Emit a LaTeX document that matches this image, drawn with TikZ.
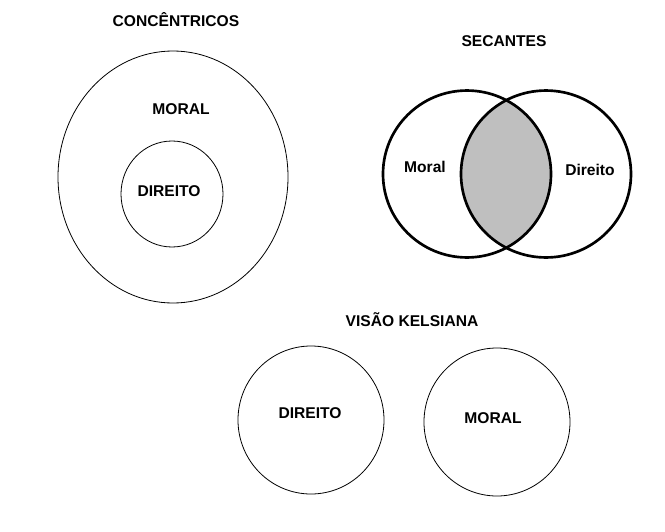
\documentclass[tikz,border=0pt]{standalone}
\usepackage{fontspec}
\setmainfont{Liberation Sans}
\usetikzlibrary{shapes.geometric}

\begin{document}
\begin{tikzpicture}[
  x=0.75pt, y=-0.75pt,
  ring/.style={ellipse, draw, line width=0.6pt, inner sep=0pt},
  thickring/.style={ring, line width=2pt},
  lbl/.style={font=\fontsize{11.7}{14}\selectfont\bfseries, inner sep=0pt},
]
\useasboundingbox (0,0) rectangle (665,532);

%% Concentricos
\node[lbl] (titleConc) at (176,20) {CONCÊNTRICOS};
\node[ring, minimum width=172.5pt, minimum height=189pt] (moralOuter) at (173,177) {};
\node[ring, minimum width=76.5pt, minimum height=79.5pt] (direitoInner) at (172,194) {};
\node[lbl] (moralA) at (181,109) {MORAL};
\node[lbl] (direitoA) at (169,191) {DIREITO};

%% Secantes
\node[lbl] (titleSec) at (504,41) {SECANTES};
\coordinate (secL) at (467,174);
\coordinate (secR) at (546,174);
\begin{scope}
  \clip (secL) ellipse [x radius=63pt, y radius=62.6pt];
  \fill[gray!50] (secR) ellipse [x radius=63.75pt, y radius=62.6pt];
\end{scope}
\node[thickring, minimum width=126pt, minimum height=125.2pt] (moralSec) at (secL) {};
\node[thickring, minimum width=127.5pt, minimum height=125.2pt] (direitoSec) at (secR) {};
\node[lbl] (moralB) at (425,167) {Moral};
\node[lbl] (direitoB) at (590,170) {Direito};

%% Visao kelsiana
\node[lbl] (titleKel) at (412,320) {VISÃO KELSIANA};
\node[ring, minimum width=109.5pt, minimum height=111pt] (direitoKel) at (311,420) {};
\node[ring, minimum width=109.5pt, minimum height=111pt] (moralKel) at (497,422) {};
\node[lbl] (direitoC) at (310,413) {DIREITO};
\node[lbl] (moralC) at (493,418) {MORAL};

\end{tikzpicture}
\end{document}
